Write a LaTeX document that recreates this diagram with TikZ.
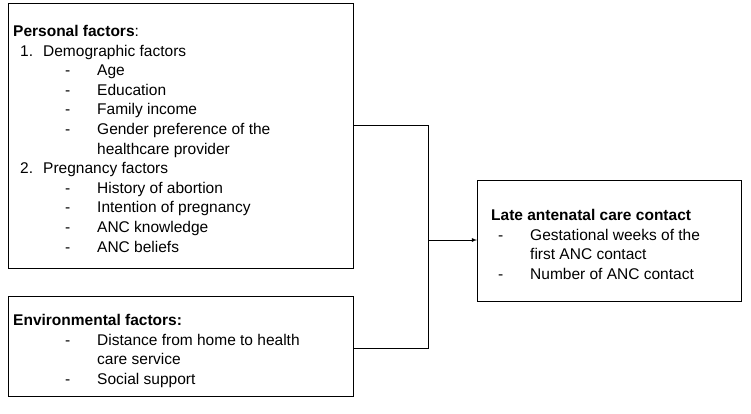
\documentclass[tikz,border=0pt]{standalone}
\usepackage{fontspec}
\setmainfont{Liberation Sans}
\usetikzlibrary{positioning}
\newcommand{\numitem}[2]{\makebox[23pt][l]{#1}#2}
\newcommand{\dashitem}[1]{\hspace*{45pt}\makebox[32pt][l]{-}#1}
\begin{document}
\begin{tikzpicture}
		[x=1pt,y=-1pt,
		factor/.style ={rectangle, draw=none, anchor=north west, align=left, inner sep=0pt, font=\fontsize{15.5}{19.6}\selectfont},
		]
		\useasboundingbox (0,0) rectangle (751,413);

		\draw[thick] (8,3) rectangle (353,268);
		\draw[thick] (8,296) rectangle (353,396);
		\draw[thick] (477,180) rectangle (741,301);

		\node[factor] (P) at (20,25) {\hspace*{-7pt}\textbf{Personal factors}:\\
		\numitem{1.}{Demographic factors}\\
		\dashitem{Age}\\
		\dashitem{Education}\\
		\dashitem{Family income}\\
		\dashitem{Gender preference of the}\\
		\hspace*{77pt}healthcare provider\\
		\numitem{2.}{Pregnancy factors}\\
		\dashitem{History of abortion}\\
		\dashitem{Intention of pregnancy}\\
		\dashitem{ANC knowledge}\\
		\dashitem{ANC beliefs}};
		\node[factor] (E) at (20,314) {\hspace*{-7pt}\textbf{Environmental factors:}\\
		\dashitem{Distance from home to health}\\
		\hspace*{77pt}care service\\
		\dashitem{Social support}};
		\node[factor] (L) at (491,209) {\textbf{Late antenatal care contact}\\
		\hspace*{7pt}\makebox[32pt][l]{-}Gestational weeks of the\\
		\hspace*{39pt}first ANC contact\\
		\hspace*{7pt}\makebox[32pt][l]{-}Number of ANC contact};

		\coordinate (j1) at (353,125);
		\coordinate (j2) at (353,348);
		\coordinate (jt) at (428,125);
		\coordinate (jb) at (428,348);
		\coordinate (jm) at (428,240);
		\coordinate (t) at (477,240);
		\draw[thick] (j1) -- (jt) -- (jb) -- (j2);
		\draw[thick,-latex] (jm) -- (t);
	\end{tikzpicture}
\end{document}
